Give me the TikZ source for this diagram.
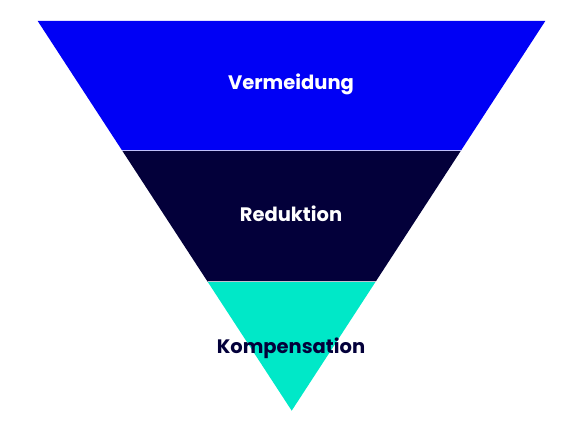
\documentclass[tikz,border=0pt]{standalone}
\usepackage{fontspec}
\setmainfont{Poppins}
\usepackage{tikz}
\usetikzlibrary{calc}
\definecolor{primary}{RGB}{0, 0, 245}
\definecolor{navy}{RGB}{3, 0, 58}
\definecolor{mint}{RGB}{0, 232, 200}

\begin{document}
\begin{tikzpicture}[x=1pt,y=-1pt,
  label/.style={anchor=base,font=\fontsize{19.5}{22}\selectfont\bfseries}]
\useasboundingbox (0,0) rectangle (568,427);
\coordinate (L) at (37.7,21);
\coordinate (R) at (545.3,21);
\coordinate (A) at (291.7,410.7);
\coordinate (L1) at ($(L)!0.333!(A)$);
\coordinate (R1) at ($(R)!0.333!(A)$);
\coordinate (L2) at ($(L)!0.669!(A)$);
\coordinate (R2) at ($(R)!0.669!(A)$);
\fill[primary] (L) -- (R) -- (R1) -- (L1) -- cycle;
\fill[navy] (L1) -- (R1) -- (R2) -- (L2) -- cycle;
\fill[mint] (L2) -- (R2) -- (A) -- cycle;
\draw[white!75!primary,line width=0.8pt] (L1) -- (R1);
\draw[white!75!navy,line width=0.8pt] (L2) -- (R2);
\node[label,white] (avoid) at (291,89.3) {Vermeidung};
\node[label,white] (reduce) at (291,221.7) {Reduktion};
\node[label,navy] (offset) at (291,353.3) {Kompensation};
\end{tikzpicture}
\end{document}
